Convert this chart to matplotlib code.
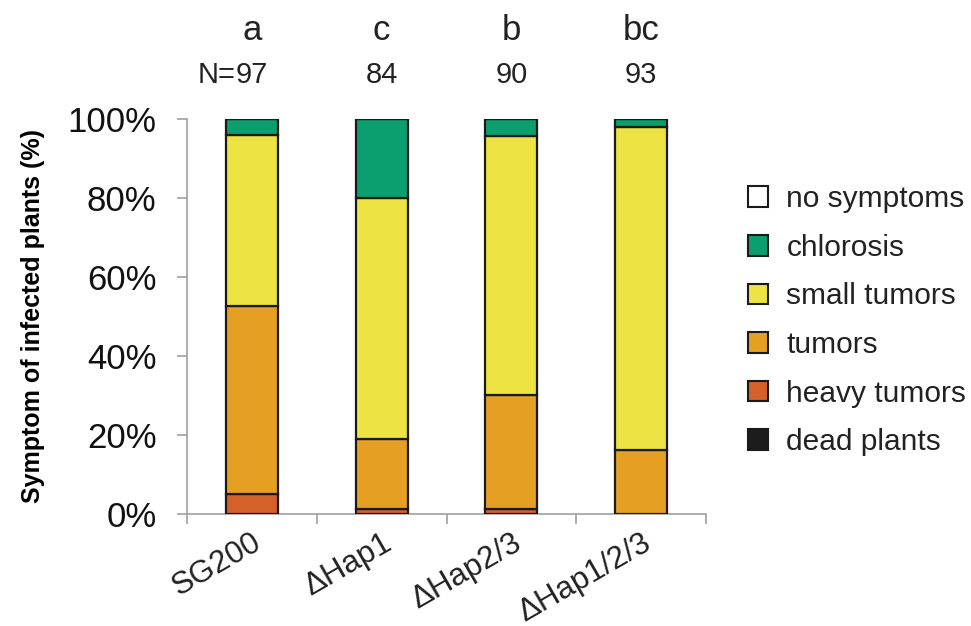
import matplotlib
matplotlib.use("Agg")
import matplotlib.pyplot as plt
from matplotlib.patches import Patch
import matplotlib.transforms as mtransforms

plt.rcParams['font.family'] = ['Liberation Sans', 'DejaVu Sans']

# data, % of infected plants per symptom class (stacked bottom -> top)
strains = ['SG200', 'ΔHap1', 'ΔHap2/3', 'ΔHap1/2/3']
letters = ['a', 'c', 'b', 'bc']
n_values = ['97', '84', '90', '93']
dead_plants = [0, 0, 0, 0]
heavy_tumors = [5.1, 1.3, 1.2, 0]
tumors = [47.5, 17.7, 28.8, 16.2]
small_tumors = [43.3, 60.9, 65.7, 81.8]
chlorosis = [4.1, 20.1, 4.3, 2.0]
no_symptoms = [0, 0, 0, 0]

series = [
    ('dead plants', dead_plants, '#1c1c1c'),
    ('heavy tumors', heavy_tumors, '#d4602a'),
    ('tumors', tumors, '#e5a024'),
    ('small tumors', small_tumors, '#ede342'),
    ('chlorosis', chlorosis, '#0b9e6e'),
    ('no symptoms', no_symptoms, '#ffffff'),
]

fig = plt.figure(figsize=(9.71, 6.26), dpi=100)
ax = fig.add_axes([0.1926, 0.179, 0.5345, 0.631])

x = list(range(len(strains)))
bottom = [0.0] * len(strains)
for name, vals, col in series:
    ax.bar(x, vals, width=0.4, bottom=bottom, color=col,
           edgecolor='#1a1a1a', linewidth=1.6, zorder=3)
    bottom = [b + v for b, v in zip(bottom, vals)]

ax.set_xlim(-0.5, len(strains) - 0.5)
ax.set_ylim(0, 100)
ax.set_yticks([0, 20, 40, 60, 80, 100])
ax.set_yticklabels(['0%', '20%', '40%', '60%', '80%', '100%'], fontsize=25,
                   color='#111111')
ax.set_xticks(x)
ax.set_xticklabels(strains, fontsize=22.5, rotation=30, ha='right',
                   rotation_mode='anchor', color='#222222')
ax.set_xticks([i - 0.5 for i in range(len(strains) + 1)], minor=True)
ax.tick_params(axis='x', which='major', length=0, pad=10)
ax.tick_params(axis='x', which='minor', length=7, color='#a0a0a0', width=1.2)
ax.tick_params(axis='y', length=7, color='#a0a0a0', width=1.2, pad=15)

for s in ['top', 'right']:
    ax.spines[s].set_visible(False)
for s in ['left', 'bottom']:
    ax.spines[s].set_color('#a0a0a0')
    ax.spines[s].set_linewidth(1.2)

ax.set_ylabel('Symptom of infected plants (%)', fontsize=18,
              fontweight='bold', labelpad=16)

# significance letters and sample sizes above the bars
trans = mtransforms.blended_transform_factory(ax.transData, ax.transAxes)
for i in x:
    ax.text(i, 1.225, letters[i], transform=trans, ha='center', va='center',
            fontsize=25, color='#222222')
    num = ax.text(i, 1.11, n_values[i], transform=trans, ha='center',
                  va='center', fontsize=21, color='#222222')
    if i == 0:
        ax.annotate('N=', xy=(0, 0.5), xycoords=num, ha='right', va='center',
                    fontsize=21, color='#222222')

handles = [Patch(facecolor=col, edgecolor='#1a1a1a', linewidth=1.5, label=name)
           for name, vals, col in reversed(series)]
fig.legend(handles=handles, loc='upper left', bbox_to_anchor=(0.755, 0.728),
           frameon=False, fontsize=21.5, handlelength=0.68, handleheight=0.68,
           handletextpad=0.6, labelspacing=0.69, borderpad=0,
           labelcolor='#222222')

fig.savefig('out.png', dpi=100)
